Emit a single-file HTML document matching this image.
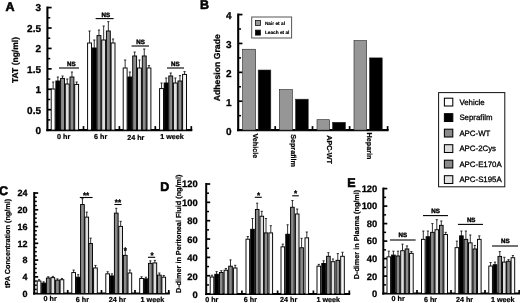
<!DOCTYPE html>
<html><head><meta charset="utf-8"><title>Figure</title>
<style>
html,body{margin:0;padding:0;background:#fff;}
body{width:520px;height:303px;overflow:hidden;}
svg{display:block;font-family:"Liberation Sans",sans-serif;text-rendering:geometricPrecision;}
</style></head><body>
<svg width="520" height="303" viewBox="0 0 520 303">
<defs><filter id="bl" x="0" y="0" width="520" height="303" filterUnits="userSpaceOnUse"><feGaussianBlur stdDeviation="0.3"/></filter></defs>
<g filter="url(#bl)">
<rect x="0" y="0" width="520" height="303" fill="#fff"/>
<line x1="47.40" y1="6.53" x2="47.40" y2="131.15" stroke="#000" stroke-width="2.1"/>
<line x1="46.35" y1="130.10" x2="192.35" y2="130.10" stroke="#000" stroke-width="2.1"/>
<line x1="47.40" y1="109.68" x2="51.65" y2="109.68" stroke="#000" stroke-width="1.7"/>
<line x1="47.40" y1="89.26" x2="51.65" y2="89.26" stroke="#000" stroke-width="1.7"/>
<line x1="47.40" y1="68.84" x2="51.65" y2="68.84" stroke="#000" stroke-width="1.7"/>
<line x1="47.40" y1="48.42" x2="51.65" y2="48.42" stroke="#000" stroke-width="1.7"/>
<line x1="47.40" y1="28.00" x2="51.65" y2="28.00" stroke="#000" stroke-width="1.7"/>
<line x1="47.40" y1="7.58" x2="51.65" y2="7.58" stroke="#000" stroke-width="1.7"/>
<line x1="47.40" y1="119.89" x2="50.25" y2="119.89" stroke="#000" stroke-width="1.5"/>
<line x1="47.40" y1="99.47" x2="50.25" y2="99.47" stroke="#000" stroke-width="1.5"/>
<line x1="47.40" y1="79.05" x2="50.25" y2="79.05" stroke="#000" stroke-width="1.5"/>
<line x1="47.40" y1="58.63" x2="50.25" y2="58.63" stroke="#000" stroke-width="1.5"/>
<line x1="47.40" y1="38.21" x2="50.25" y2="38.21" stroke="#000" stroke-width="1.5"/>
<line x1="47.40" y1="17.79" x2="50.25" y2="17.79" stroke="#000" stroke-width="1.5"/>
<line x1="83.50" y1="130.10" x2="83.50" y2="126.10" stroke="#000" stroke-width="1.7"/>
<line x1="119.40" y1="130.10" x2="119.40" y2="126.10" stroke="#000" stroke-width="1.7"/>
<line x1="155.30" y1="130.10" x2="155.30" y2="126.10" stroke="#000" stroke-width="1.7"/>
<line x1="191.30" y1="130.10" x2="191.30" y2="126.10" stroke="#000" stroke-width="1.7"/>
<text x="41.00" y="134.00" font-size="10" font-weight="bold" text-anchor="end" stroke="#000" stroke-width="0.30">0</text>
<text x="41.00" y="113.58" font-size="10" font-weight="bold" text-anchor="end" stroke="#000" stroke-width="0.30">0.5</text>
<text x="41.00" y="93.16" font-size="10" font-weight="bold" text-anchor="end" stroke="#000" stroke-width="0.30">1</text>
<text x="41.00" y="72.74" font-size="10" font-weight="bold" text-anchor="end" stroke="#000" stroke-width="0.30">1.5</text>
<text x="41.00" y="52.32" font-size="10" font-weight="bold" text-anchor="end" stroke="#000" stroke-width="0.30">2</text>
<text x="41.00" y="31.90" font-size="10" font-weight="bold" text-anchor="end" stroke="#000" stroke-width="0.30">2.5</text>
<text x="41.00" y="11.48" font-size="10" font-weight="bold" text-anchor="end" stroke="#000" stroke-width="0.30">3</text>
<text x="18.00" y="60.00" font-size="8.5" font-weight="bold" text-anchor="middle" transform="rotate(-90 18.00 60.00)" stroke="#000" stroke-width="0.26">TAT (ng/ml)</text>
<text x="10.00" y="10.60" font-size="12.5" font-weight="bold" text-anchor="middle" stroke="#000" stroke-width="0.6">A</text>
<line x1="53.15" y1="89.00" x2="53.15" y2="82.00" stroke="#111" stroke-width="0.85"/>
<line x1="52.05" y1="82.00" x2="54.25" y2="82.00" stroke="#111" stroke-width="0.85"/>
<rect x="51.20" y="89.00" width="3.90" height="41.10" fill="#ffffff" stroke="#000" stroke-width="0.95"/>
<line x1="57.85" y1="81.00" x2="57.85" y2="77.00" stroke="#111" stroke-width="0.85"/>
<line x1="56.75" y1="77.00" x2="58.95" y2="77.00" stroke="#111" stroke-width="0.85"/>
<rect x="55.90" y="81.00" width="3.90" height="49.10" fill="#000000" stroke="#000" stroke-width="0.95"/>
<line x1="62.55" y1="78.40" x2="62.55" y2="76.00" stroke="#111" stroke-width="0.85"/>
<line x1="61.45" y1="76.00" x2="63.65" y2="76.00" stroke="#111" stroke-width="0.85"/>
<rect x="60.60" y="78.40" width="3.90" height="51.70" fill="#8a8a8a" stroke="#000" stroke-width="0.95"/>
<line x1="67.25" y1="84.00" x2="67.25" y2="79.00" stroke="#111" stroke-width="0.85"/>
<line x1="66.15" y1="79.00" x2="68.35" y2="79.00" stroke="#111" stroke-width="0.85"/>
<rect x="65.30" y="84.00" width="3.90" height="46.10" fill="#dedede" stroke="#000" stroke-width="0.95"/>
<line x1="71.95" y1="77.00" x2="71.95" y2="72.00" stroke="#111" stroke-width="0.85"/>
<line x1="70.85" y1="72.00" x2="73.05" y2="72.00" stroke="#111" stroke-width="0.85"/>
<rect x="70.00" y="77.00" width="3.90" height="53.10" fill="#8a8a8a" stroke="#000" stroke-width="0.95"/>
<line x1="76.65" y1="84.40" x2="76.65" y2="82.00" stroke="#111" stroke-width="0.85"/>
<line x1="75.55" y1="82.00" x2="77.75" y2="82.00" stroke="#111" stroke-width="0.85"/>
<rect x="74.70" y="84.40" width="3.90" height="45.70" fill="#f4f4f4" stroke="#000" stroke-width="0.95"/>
<line x1="89.55" y1="43.00" x2="89.55" y2="31.00" stroke="#111" stroke-width="0.85"/>
<line x1="88.45" y1="31.00" x2="90.65" y2="31.00" stroke="#111" stroke-width="0.85"/>
<rect x="87.60" y="43.00" width="3.90" height="87.10" fill="#ffffff" stroke="#000" stroke-width="0.95"/>
<line x1="94.25" y1="48.00" x2="94.25" y2="40.00" stroke="#111" stroke-width="0.85"/>
<line x1="93.15" y1="40.00" x2="95.35" y2="40.00" stroke="#111" stroke-width="0.85"/>
<rect x="92.30" y="48.00" width="3.90" height="82.10" fill="#000000" stroke="#000" stroke-width="0.95"/>
<line x1="98.95" y1="35.60" x2="98.95" y2="30.00" stroke="#111" stroke-width="0.85"/>
<line x1="97.85" y1="30.00" x2="100.05" y2="30.00" stroke="#111" stroke-width="0.85"/>
<rect x="97.00" y="35.60" width="3.90" height="94.50" fill="#8a8a8a" stroke="#000" stroke-width="0.95"/>
<line x1="103.65" y1="40.00" x2="103.65" y2="26.00" stroke="#111" stroke-width="0.85"/>
<line x1="102.55" y1="26.00" x2="104.75" y2="26.00" stroke="#111" stroke-width="0.85"/>
<rect x="101.70" y="40.00" width="3.90" height="90.10" fill="#dedede" stroke="#000" stroke-width="0.95"/>
<line x1="108.35" y1="31.00" x2="108.35" y2="21.60" stroke="#111" stroke-width="0.85"/>
<line x1="107.25" y1="21.60" x2="109.45" y2="21.60" stroke="#111" stroke-width="0.85"/>
<rect x="106.40" y="31.00" width="3.90" height="99.10" fill="#8a8a8a" stroke="#000" stroke-width="0.95"/>
<line x1="113.05" y1="43.00" x2="113.05" y2="39.00" stroke="#111" stroke-width="0.85"/>
<line x1="111.95" y1="39.00" x2="114.15" y2="39.00" stroke="#111" stroke-width="0.85"/>
<rect x="111.10" y="43.00" width="3.90" height="87.10" fill="#f4f4f4" stroke="#000" stroke-width="0.95"/>
<line x1="125.15" y1="68.00" x2="125.15" y2="60.00" stroke="#111" stroke-width="0.85"/>
<line x1="124.05" y1="60.00" x2="126.25" y2="60.00" stroke="#111" stroke-width="0.85"/>
<rect x="123.20" y="68.00" width="3.90" height="62.10" fill="#ffffff" stroke="#000" stroke-width="0.95"/>
<line x1="129.85" y1="77.00" x2="129.85" y2="72.00" stroke="#111" stroke-width="0.85"/>
<line x1="128.75" y1="72.00" x2="130.95" y2="72.00" stroke="#111" stroke-width="0.85"/>
<rect x="127.90" y="77.00" width="3.90" height="53.10" fill="#000000" stroke="#000" stroke-width="0.95"/>
<line x1="134.65" y1="56.00" x2="134.65" y2="52.00" stroke="#111" stroke-width="0.85"/>
<line x1="133.55" y1="52.00" x2="135.75" y2="52.00" stroke="#111" stroke-width="0.85"/>
<rect x="132.70" y="56.00" width="3.90" height="74.10" fill="#8a8a8a" stroke="#000" stroke-width="0.95"/>
<line x1="139.45" y1="68.00" x2="139.45" y2="60.00" stroke="#111" stroke-width="0.85"/>
<line x1="138.35" y1="60.00" x2="140.55" y2="60.00" stroke="#111" stroke-width="0.85"/>
<rect x="137.50" y="68.00" width="3.90" height="62.10" fill="#dedede" stroke="#000" stroke-width="0.95"/>
<line x1="144.25" y1="56.00" x2="144.25" y2="49.00" stroke="#111" stroke-width="0.85"/>
<line x1="143.15" y1="49.00" x2="145.35" y2="49.00" stroke="#111" stroke-width="0.85"/>
<rect x="142.30" y="56.00" width="3.90" height="74.10" fill="#8a8a8a" stroke="#000" stroke-width="0.95"/>
<line x1="148.95" y1="68.00" x2="148.95" y2="65.60" stroke="#111" stroke-width="0.85"/>
<line x1="147.85" y1="65.60" x2="150.05" y2="65.60" stroke="#111" stroke-width="0.85"/>
<rect x="147.00" y="68.00" width="3.90" height="62.10" fill="#f4f4f4" stroke="#000" stroke-width="0.95"/>
<line x1="161.55" y1="88.60" x2="161.55" y2="83.00" stroke="#111" stroke-width="0.85"/>
<line x1="160.45" y1="83.00" x2="162.65" y2="83.00" stroke="#111" stroke-width="0.85"/>
<rect x="159.60" y="88.60" width="3.90" height="41.50" fill="#ffffff" stroke="#000" stroke-width="0.95"/>
<line x1="166.15" y1="83.00" x2="166.15" y2="78.00" stroke="#111" stroke-width="0.85"/>
<line x1="165.05" y1="78.00" x2="167.25" y2="78.00" stroke="#111" stroke-width="0.85"/>
<rect x="164.20" y="83.00" width="3.90" height="47.10" fill="#000000" stroke="#000" stroke-width="0.95"/>
<line x1="170.75" y1="76.00" x2="170.75" y2="73.00" stroke="#111" stroke-width="0.85"/>
<line x1="169.65" y1="73.00" x2="171.85" y2="73.00" stroke="#111" stroke-width="0.85"/>
<rect x="168.80" y="76.00" width="3.90" height="54.10" fill="#8a8a8a" stroke="#000" stroke-width="0.95"/>
<line x1="175.35" y1="83.00" x2="175.35" y2="78.00" stroke="#111" stroke-width="0.85"/>
<line x1="174.25" y1="78.00" x2="176.45" y2="78.00" stroke="#111" stroke-width="0.85"/>
<rect x="173.40" y="83.00" width="3.90" height="47.10" fill="#dedede" stroke="#000" stroke-width="0.95"/>
<line x1="179.95" y1="81.00" x2="179.95" y2="75.60" stroke="#111" stroke-width="0.85"/>
<line x1="178.85" y1="75.60" x2="181.05" y2="75.60" stroke="#111" stroke-width="0.85"/>
<rect x="178.00" y="81.00" width="3.90" height="49.10" fill="#8a8a8a" stroke="#000" stroke-width="0.95"/>
<line x1="184.55" y1="74.40" x2="184.55" y2="71.60" stroke="#111" stroke-width="0.85"/>
<line x1="183.45" y1="71.60" x2="185.65" y2="71.60" stroke="#111" stroke-width="0.85"/>
<rect x="182.60" y="74.40" width="3.90" height="55.70" fill="#f4f4f4" stroke="#000" stroke-width="0.95"/>
<line x1="59.00" y1="68.00" x2="79.00" y2="68.00" stroke="#000" stroke-width="1.1"/>
<text x="71.30" y="66.00" font-size="6.2" font-weight="bold" text-anchor="middle" stroke="#000" stroke-width="0.4">NS</text>
<line x1="95.60" y1="18.60" x2="113.60" y2="18.60" stroke="#000" stroke-width="1.1"/>
<text x="105.80" y="16.60" font-size="6.2" font-weight="bold" text-anchor="middle" stroke="#000" stroke-width="0.4">NS</text>
<line x1="131.60" y1="46.00" x2="149.00" y2="46.00" stroke="#000" stroke-width="1.1"/>
<text x="140.50" y="44.00" font-size="6.2" font-weight="bold" text-anchor="middle" stroke="#000" stroke-width="0.4">NS</text>
<line x1="167.00" y1="68.00" x2="184.00" y2="68.00" stroke="#000" stroke-width="1.1"/>
<text x="175.30" y="66.00" font-size="6.2" font-weight="bold" text-anchor="middle" stroke="#000" stroke-width="0.4">NS</text>
<text x="63.60" y="138.60" font-size="7.2" font-weight="bold" text-anchor="middle" stroke="#000" stroke-width="0.22">0 hr</text>
<text x="100.70" y="138.60" font-size="7.2" font-weight="bold" text-anchor="middle" stroke="#000" stroke-width="0.22">6 hr</text>
<text x="135.80" y="139.90" font-size="7.2" font-weight="bold" text-anchor="middle" stroke="#000" stroke-width="0.22">24 hr</text>
<text x="172.00" y="138.80" font-size="7.2" font-weight="bold" text-anchor="middle" stroke="#000" stroke-width="0.22">1 week</text>
<line x1="238.20" y1="13.53" x2="238.20" y2="131.15" stroke="#000" stroke-width="2.1"/>
<line x1="237.15" y1="130.10" x2="388.65" y2="130.10" stroke="#000" stroke-width="2.1"/>
<line x1="238.20" y1="101.22" x2="242.45" y2="101.22" stroke="#000" stroke-width="1.7"/>
<line x1="238.20" y1="72.34" x2="242.45" y2="72.34" stroke="#000" stroke-width="1.7"/>
<line x1="238.20" y1="43.46" x2="242.45" y2="43.46" stroke="#000" stroke-width="1.7"/>
<line x1="238.20" y1="14.58" x2="242.45" y2="14.58" stroke="#000" stroke-width="1.7"/>
<line x1="238.20" y1="115.66" x2="241.05" y2="115.66" stroke="#000" stroke-width="1.5"/>
<line x1="238.20" y1="86.78" x2="241.05" y2="86.78" stroke="#000" stroke-width="1.5"/>
<line x1="238.20" y1="57.90" x2="241.05" y2="57.90" stroke="#000" stroke-width="1.5"/>
<line x1="238.20" y1="29.02" x2="241.05" y2="29.02" stroke="#000" stroke-width="1.5"/>
<line x1="275.20" y1="130.10" x2="275.20" y2="126.10" stroke="#000" stroke-width="1.7"/>
<line x1="312.50" y1="130.10" x2="312.50" y2="126.10" stroke="#000" stroke-width="1.7"/>
<line x1="349.60" y1="130.10" x2="349.60" y2="126.10" stroke="#000" stroke-width="1.7"/>
<line x1="387.60" y1="130.10" x2="387.60" y2="126.10" stroke="#000" stroke-width="1.7"/>
<text x="231.60" y="134.60" font-size="10" font-weight="bold" text-anchor="end" stroke="#000" stroke-width="0.30">0</text>
<text x="231.60" y="105.52" font-size="10" font-weight="bold" text-anchor="end" stroke="#000" stroke-width="0.30">1</text>
<text x="231.60" y="76.64" font-size="10" font-weight="bold" text-anchor="end" stroke="#000" stroke-width="0.30">2</text>
<text x="231.60" y="47.76" font-size="10" font-weight="bold" text-anchor="end" stroke="#000" stroke-width="0.30">3</text>
<text x="231.60" y="18.88" font-size="10" font-weight="bold" text-anchor="end" stroke="#000" stroke-width="0.30">4</text>
<text x="219.80" y="67.70" font-size="8.7" font-weight="bold" text-anchor="middle" transform="rotate(-90 219.80 67.70)" stroke="#000" stroke-width="0.26">Adhesion Grade</text>
<text x="204.60" y="9.20" font-size="12.5" font-weight="bold" text-anchor="middle" stroke="#000" stroke-width="0.6">B</text>
<rect x="242.60" y="49.24" width="13.00" height="80.86" fill="#969696" stroke="#222" stroke-width="0.6"/>
<rect x="258.20" y="70.03" width="12.60" height="60.07" fill="#000" stroke="#222" stroke-width="0.6"/>
<rect x="279.40" y="89.67" width="13.00" height="40.43" fill="#969696" stroke="#222" stroke-width="0.6"/>
<rect x="295.60" y="99.20" width="12.60" height="30.90" fill="#000" stroke="#222" stroke-width="0.6"/>
<rect x="317.00" y="119.70" width="12.60" height="10.40" fill="#969696" stroke="#222" stroke-width="0.6"/>
<rect x="332.60" y="122.30" width="12.80" height="7.80" fill="#000" stroke="#222" stroke-width="0.6"/>
<rect x="354.00" y="40.57" width="12.60" height="89.53" fill="#969696" stroke="#222" stroke-width="0.6"/>
<rect x="369.60" y="57.90" width="12.60" height="72.20" fill="#000" stroke="#222" stroke-width="0.6"/>
<text x="252.80" y="133.40" font-size="7.2" font-weight="bold" text-anchor="start" transform="rotate(90 252.80 133.40)" stroke="#000" stroke-width="0.22">Vehicle</text>
<text x="291.40" y="134.20" font-size="7.2" font-weight="bold" text-anchor="start" transform="rotate(90 291.40 134.20)" stroke="#000" stroke-width="0.22">Seprafilm</text>
<text x="327.40" y="135.20" font-size="7.2" font-weight="bold" text-anchor="start" transform="rotate(90 327.40 135.20)" stroke="#000" stroke-width="0.22">APC-WT</text>
<text x="366.80" y="132.60" font-size="7.2" font-weight="bold" text-anchor="start" transform="rotate(90 366.80 132.60)" stroke="#000" stroke-width="0.22">Heparin</text>
<rect x="251.70" y="17.00" width="39.90" height="21.00" fill="#fff" stroke="#555" stroke-width="1.0"/>
<rect x="255.40" y="20.50" width="5.00" height="5.00" fill="#969696" stroke="#111" stroke-width="0.8"/>
<rect x="255.40" y="30.10" width="5.00" height="5.00" fill="#000" stroke="#111" stroke-width="0.8"/>
<text x="264.90" y="24.60" font-size="4.75" font-weight="bold" text-anchor="start" stroke="#000" stroke-width="0.15">Nair et al</text>
<text x="264.90" y="34.40" font-size="4.75" font-weight="bold" text-anchor="start" stroke="#000" stroke-width="0.15">Leach et al</text>
<rect x="438.60" y="92.60" width="66.20" height="94.20" fill="#fff" stroke="#111" stroke-width="1.0"/>
<rect x="444.40" y="98.20" width="8.40" height="7.80" fill="#ffffff" stroke="#000" stroke-width="1.05"/>
<text x="459.40" y="104.90" font-size="7.85" font-weight="normal" text-anchor="start" stroke="#000" stroke-width="0.28">Vehicle</text>
<rect x="444.40" y="113.70" width="8.40" height="7.80" fill="#000000" stroke="#000" stroke-width="1.05"/>
<text x="459.40" y="120.40" font-size="7.85" font-weight="normal" text-anchor="start" stroke="#000" stroke-width="0.28">Seprafilm</text>
<rect x="444.40" y="129.20" width="8.40" height="7.80" fill="#8a8a8a" stroke="#000" stroke-width="1.05"/>
<text x="459.40" y="135.90" font-size="7.85" font-weight="normal" text-anchor="start" stroke="#000" stroke-width="0.28">APC-WT</text>
<rect x="444.40" y="144.70" width="8.40" height="7.80" fill="#dcdcdc" stroke="#000" stroke-width="1.05"/>
<text x="459.40" y="151.40" font-size="7.85" font-weight="normal" text-anchor="start" stroke="#000" stroke-width="0.28">APC-2Cys</text>
<rect x="444.40" y="160.20" width="8.40" height="7.80" fill="#8a8a8a" stroke="#000" stroke-width="1.05"/>
<text x="459.40" y="166.90" font-size="7.85" font-weight="normal" text-anchor="start" stroke="#000" stroke-width="0.28">APC-E170A</text>
<rect x="444.40" y="175.70" width="8.40" height="7.80" fill="#e2e2e2" stroke="#000" stroke-width="1.05"/>
<text x="459.40" y="182.40" font-size="7.85" font-weight="normal" text-anchor="start" stroke="#000" stroke-width="0.28">APC-S195A</text>
<line x1="34.20" y1="192.04" x2="34.20" y2="294.60" stroke="#000" stroke-width="2.0"/>
<line x1="33.20" y1="293.60" x2="169.80" y2="293.60" stroke="#000" stroke-width="2.0"/>
<line x1="34.20" y1="276.84" x2="38.20" y2="276.84" stroke="#000" stroke-width="1.7"/>
<line x1="34.20" y1="260.08" x2="38.20" y2="260.08" stroke="#000" stroke-width="1.7"/>
<line x1="34.20" y1="243.32" x2="38.20" y2="243.32" stroke="#000" stroke-width="1.7"/>
<line x1="34.20" y1="226.56" x2="38.20" y2="226.56" stroke="#000" stroke-width="1.7"/>
<line x1="34.20" y1="209.80" x2="38.20" y2="209.80" stroke="#000" stroke-width="1.7"/>
<line x1="34.20" y1="193.04" x2="38.20" y2="193.04" stroke="#000" stroke-width="1.7"/>
<line x1="34.20" y1="289.41" x2="36.80" y2="289.41" stroke="#000" stroke-width="1.5"/>
<line x1="34.20" y1="285.22" x2="36.80" y2="285.22" stroke="#000" stroke-width="1.5"/>
<line x1="34.20" y1="281.03" x2="36.80" y2="281.03" stroke="#000" stroke-width="1.5"/>
<line x1="34.20" y1="272.65" x2="36.80" y2="272.65" stroke="#000" stroke-width="1.5"/>
<line x1="34.20" y1="268.46" x2="36.80" y2="268.46" stroke="#000" stroke-width="1.5"/>
<line x1="34.20" y1="264.27" x2="36.80" y2="264.27" stroke="#000" stroke-width="1.5"/>
<line x1="34.20" y1="255.89" x2="36.80" y2="255.89" stroke="#000" stroke-width="1.5"/>
<line x1="34.20" y1="251.70" x2="36.80" y2="251.70" stroke="#000" stroke-width="1.5"/>
<line x1="34.20" y1="247.51" x2="36.80" y2="247.51" stroke="#000" stroke-width="1.5"/>
<line x1="34.20" y1="239.13" x2="36.80" y2="239.13" stroke="#000" stroke-width="1.5"/>
<line x1="34.20" y1="234.94" x2="36.80" y2="234.94" stroke="#000" stroke-width="1.5"/>
<line x1="34.20" y1="230.75" x2="36.80" y2="230.75" stroke="#000" stroke-width="1.5"/>
<line x1="34.20" y1="222.37" x2="36.80" y2="222.37" stroke="#000" stroke-width="1.5"/>
<line x1="34.20" y1="218.18" x2="36.80" y2="218.18" stroke="#000" stroke-width="1.5"/>
<line x1="34.20" y1="213.99" x2="36.80" y2="213.99" stroke="#000" stroke-width="1.5"/>
<line x1="34.20" y1="205.61" x2="36.80" y2="205.61" stroke="#000" stroke-width="1.5"/>
<line x1="34.20" y1="201.42" x2="36.80" y2="201.42" stroke="#000" stroke-width="1.5"/>
<line x1="34.20" y1="197.23" x2="36.80" y2="197.23" stroke="#000" stroke-width="1.5"/>
<line x1="67.70" y1="293.60" x2="67.70" y2="290.00" stroke="#000" stroke-width="1.7"/>
<line x1="101.50" y1="293.60" x2="101.50" y2="290.00" stroke="#000" stroke-width="1.7"/>
<line x1="135.00" y1="293.60" x2="135.00" y2="290.00" stroke="#000" stroke-width="1.7"/>
<line x1="168.80" y1="293.60" x2="168.80" y2="290.00" stroke="#000" stroke-width="1.7"/>
<text x="27.40" y="296.90" font-size="9" font-weight="bold" text-anchor="end" stroke="#000" stroke-width="0.27">0</text>
<text x="27.40" y="280.14" font-size="9" font-weight="bold" text-anchor="end" stroke="#000" stroke-width="0.27">4</text>
<text x="27.40" y="263.38" font-size="9" font-weight="bold" text-anchor="end" stroke="#000" stroke-width="0.27">8</text>
<text x="27.40" y="246.62" font-size="9" font-weight="bold" text-anchor="end" stroke="#000" stroke-width="0.27">12</text>
<text x="27.40" y="229.86" font-size="9" font-weight="bold" text-anchor="end" stroke="#000" stroke-width="0.27">16</text>
<text x="27.40" y="213.10" font-size="9" font-weight="bold" text-anchor="end" stroke="#000" stroke-width="0.27">20</text>
<text x="27.40" y="196.34" font-size="9" font-weight="bold" text-anchor="end" stroke="#000" stroke-width="0.27">24</text>
<text x="9.80" y="243.40" font-size="7.27" font-weight="bold" text-anchor="middle" transform="rotate(-90 9.80 243.40)" stroke="#000" stroke-width="0.22">tPA Concentration (ng/ml)</text>
<text x="3.60" y="194.90" font-size="12.5" font-weight="bold" text-anchor="middle" stroke="#000" stroke-width="0.6">C</text>
<line x1="39.05" y1="280.98" x2="39.05" y2="279.72" stroke="#111" stroke-width="0.85"/>
<line x1="37.95" y1="279.72" x2="40.15" y2="279.72" stroke="#111" stroke-width="0.85"/>
<rect x="37.20" y="280.98" width="3.70" height="12.62" fill="#ffffff" stroke="#000" stroke-width="0.95"/>
<line x1="43.65" y1="283.08" x2="43.65" y2="281.82" stroke="#111" stroke-width="0.85"/>
<line x1="42.55" y1="281.82" x2="44.75" y2="281.82" stroke="#111" stroke-width="0.85"/>
<rect x="41.80" y="283.08" width="3.70" height="10.52" fill="#000000" stroke="#000" stroke-width="0.95"/>
<line x1="48.25" y1="278.04" x2="48.25" y2="276.78" stroke="#111" stroke-width="0.85"/>
<line x1="47.15" y1="276.78" x2="49.35" y2="276.78" stroke="#111" stroke-width="0.85"/>
<rect x="46.40" y="278.04" width="3.70" height="15.56" fill="#8a8a8a" stroke="#000" stroke-width="0.95"/>
<line x1="52.85" y1="277.62" x2="52.85" y2="276.36" stroke="#111" stroke-width="0.85"/>
<line x1="51.75" y1="276.36" x2="53.95" y2="276.36" stroke="#111" stroke-width="0.85"/>
<rect x="51.00" y="277.62" width="3.70" height="15.98" fill="#dedede" stroke="#000" stroke-width="0.95"/>
<line x1="57.45" y1="280.14" x2="57.45" y2="278.88" stroke="#111" stroke-width="0.85"/>
<line x1="56.35" y1="278.88" x2="58.55" y2="278.88" stroke="#111" stroke-width="0.85"/>
<rect x="55.60" y="280.14" width="3.70" height="13.46" fill="#8a8a8a" stroke="#000" stroke-width="0.95"/>
<line x1="61.95" y1="279.72" x2="61.95" y2="278.46" stroke="#111" stroke-width="0.85"/>
<line x1="60.85" y1="278.46" x2="63.05" y2="278.46" stroke="#111" stroke-width="0.85"/>
<rect x="60.10" y="279.72" width="3.70" height="13.88" fill="#f4f4f4" stroke="#000" stroke-width="0.95"/>
<line x1="73.65" y1="272.58" x2="73.65" y2="270.06" stroke="#111" stroke-width="0.85"/>
<line x1="72.55" y1="270.06" x2="74.75" y2="270.06" stroke="#111" stroke-width="0.85"/>
<rect x="71.80" y="272.58" width="3.70" height="21.02" fill="#ffffff" stroke="#000" stroke-width="0.95"/>
<line x1="78.15" y1="277.20" x2="78.15" y2="274.68" stroke="#111" stroke-width="0.85"/>
<line x1="77.05" y1="274.68" x2="79.25" y2="274.68" stroke="#111" stroke-width="0.85"/>
<rect x="76.30" y="277.20" width="3.70" height="16.40" fill="#000000" stroke="#000" stroke-width="0.95"/>
<line x1="82.45" y1="204.54" x2="82.45" y2="198.66" stroke="#111" stroke-width="0.85"/>
<line x1="81.35" y1="198.66" x2="83.55" y2="198.66" stroke="#111" stroke-width="0.85"/>
<rect x="80.60" y="204.54" width="3.70" height="89.06" fill="#8a8a8a" stroke="#000" stroke-width="0.95"/>
<line x1="86.75" y1="217.14" x2="86.75" y2="212.10" stroke="#111" stroke-width="0.85"/>
<line x1="85.65" y1="212.10" x2="87.85" y2="212.10" stroke="#111" stroke-width="0.85"/>
<rect x="84.90" y="217.14" width="3.70" height="76.46" fill="#dedede" stroke="#000" stroke-width="0.95"/>
<line x1="90.65" y1="243.60" x2="90.65" y2="238.14" stroke="#111" stroke-width="0.85"/>
<line x1="89.55" y1="238.14" x2="91.75" y2="238.14" stroke="#111" stroke-width="0.85"/>
<rect x="88.80" y="243.60" width="3.70" height="50.00" fill="#8a8a8a" stroke="#000" stroke-width="0.95"/>
<line x1="95.45" y1="267.96" x2="95.45" y2="265.44" stroke="#111" stroke-width="0.85"/>
<line x1="94.35" y1="265.44" x2="96.55" y2="265.44" stroke="#111" stroke-width="0.85"/>
<rect x="93.60" y="267.96" width="3.70" height="25.64" fill="#f4f4f4" stroke="#000" stroke-width="0.95"/>
<line x1="107.65" y1="273.84" x2="107.65" y2="271.74" stroke="#111" stroke-width="0.85"/>
<line x1="106.55" y1="271.74" x2="108.75" y2="271.74" stroke="#111" stroke-width="0.85"/>
<rect x="105.80" y="273.84" width="3.70" height="19.76" fill="#ffffff" stroke="#000" stroke-width="0.95"/>
<line x1="111.95" y1="275.94" x2="111.95" y2="273.84" stroke="#111" stroke-width="0.85"/>
<line x1="110.85" y1="273.84" x2="113.05" y2="273.84" stroke="#111" stroke-width="0.85"/>
<rect x="110.10" y="275.94" width="3.70" height="17.66" fill="#000000" stroke="#000" stroke-width="0.95"/>
<line x1="116.25" y1="213.15" x2="116.25" y2="208.32" stroke="#111" stroke-width="0.85"/>
<line x1="115.15" y1="208.32" x2="117.35" y2="208.32" stroke="#111" stroke-width="0.85"/>
<rect x="114.40" y="213.15" width="3.70" height="80.45" fill="#8a8a8a" stroke="#000" stroke-width="0.95"/>
<line x1="120.65" y1="226.38" x2="120.65" y2="221.34" stroke="#111" stroke-width="0.85"/>
<line x1="119.55" y1="221.34" x2="121.75" y2="221.34" stroke="#111" stroke-width="0.85"/>
<rect x="118.80" y="226.38" width="3.70" height="67.22" fill="#dedede" stroke="#000" stroke-width="0.95"/>
<line x1="125.25" y1="255.36" x2="125.25" y2="250.32" stroke="#111" stroke-width="0.85"/>
<line x1="124.15" y1="250.32" x2="126.35" y2="250.32" stroke="#111" stroke-width="0.85"/>
<rect x="123.40" y="255.36" width="3.70" height="38.24" fill="#8a8a8a" stroke="#000" stroke-width="0.95"/>
<line x1="129.85" y1="273.00" x2="129.85" y2="270.06" stroke="#111" stroke-width="0.85"/>
<line x1="128.75" y1="270.06" x2="130.95" y2="270.06" stroke="#111" stroke-width="0.85"/>
<rect x="128.00" y="273.00" width="3.70" height="20.60" fill="#f4f4f4" stroke="#000" stroke-width="0.95"/>
<line x1="141.55" y1="278.46" x2="141.55" y2="276.78" stroke="#111" stroke-width="0.85"/>
<line x1="140.45" y1="276.78" x2="142.65" y2="276.78" stroke="#111" stroke-width="0.85"/>
<rect x="139.70" y="278.46" width="3.70" height="15.14" fill="#ffffff" stroke="#000" stroke-width="0.95"/>
<line x1="145.95" y1="278.88" x2="145.95" y2="277.20" stroke="#111" stroke-width="0.85"/>
<line x1="144.85" y1="277.20" x2="147.05" y2="277.20" stroke="#111" stroke-width="0.85"/>
<rect x="144.10" y="278.88" width="3.70" height="14.72" fill="#000000" stroke="#000" stroke-width="0.95"/>
<line x1="150.35" y1="263.34" x2="150.35" y2="260.82" stroke="#111" stroke-width="0.85"/>
<line x1="149.25" y1="260.82" x2="151.45" y2="260.82" stroke="#111" stroke-width="0.85"/>
<rect x="148.50" y="263.34" width="3.70" height="30.26" fill="#8a8a8a" stroke="#000" stroke-width="0.95"/>
<line x1="154.85" y1="262.92" x2="154.85" y2="260.40" stroke="#111" stroke-width="0.85"/>
<line x1="153.75" y1="260.40" x2="155.95" y2="260.40" stroke="#111" stroke-width="0.85"/>
<rect x="153.00" y="262.92" width="3.70" height="30.68" fill="#dedede" stroke="#000" stroke-width="0.95"/>
<line x1="159.35" y1="275.10" x2="159.35" y2="273.00" stroke="#111" stroke-width="0.85"/>
<line x1="158.25" y1="273.00" x2="160.45" y2="273.00" stroke="#111" stroke-width="0.85"/>
<rect x="157.50" y="275.10" width="3.70" height="18.50" fill="#8a8a8a" stroke="#000" stroke-width="0.95"/>
<line x1="163.75" y1="277.20" x2="163.75" y2="275.52" stroke="#111" stroke-width="0.85"/>
<line x1="162.65" y1="275.52" x2="164.85" y2="275.52" stroke="#111" stroke-width="0.85"/>
<rect x="161.90" y="277.20" width="3.70" height="16.40" fill="#f4f4f4" stroke="#000" stroke-width="0.95"/>
<line x1="79.80" y1="197.50" x2="92.60" y2="197.50" stroke="#000" stroke-width="1.1"/>
<text x="86.10" y="198.30" font-size="8" font-weight="bold" text-anchor="middle" stroke="#000" stroke-width="0.35">**</text>
<line x1="114.40" y1="204.50" x2="121.60" y2="204.50" stroke="#000" stroke-width="1.1"/>
<text x="117.90" y="205.20" font-size="8" font-weight="bold" text-anchor="middle" stroke="#000" stroke-width="0.35">**</text>
<line x1="148.00" y1="257.30" x2="155.20" y2="257.30" stroke="#000" stroke-width="1.1"/>
<text x="152.00" y="258.20" font-size="8" font-weight="bold" text-anchor="middle" stroke="#000" stroke-width="0.35">*</text>
<text x="125.40" y="253.00" font-size="8" font-weight="bold" text-anchor="middle" stroke="#000" stroke-width="0.35">*</text>
<text x="50.20" y="301.00" font-size="7.2" font-weight="bold" text-anchor="middle" stroke="#000" stroke-width="0.22">0 hr</text>
<text x="82.40" y="301.80" font-size="7.2" font-weight="bold" text-anchor="middle" stroke="#000" stroke-width="0.22">6 hr</text>
<text x="117.40" y="302.00" font-size="7.2" font-weight="bold" text-anchor="middle" stroke="#000" stroke-width="0.22">24 hr</text>
<text x="152.40" y="301.60" font-size="7.2" font-weight="bold" text-anchor="middle" stroke="#000" stroke-width="0.22">1 week</text>
<line x1="206.20" y1="183.00" x2="206.20" y2="295.10" stroke="#000" stroke-width="2.0"/>
<line x1="205.20" y1="294.10" x2="350.20" y2="294.10" stroke="#000" stroke-width="2.0"/>
<line x1="206.20" y1="275.75" x2="210.20" y2="275.75" stroke="#000" stroke-width="1.7"/>
<line x1="206.20" y1="257.40" x2="210.20" y2="257.40" stroke="#000" stroke-width="1.7"/>
<line x1="206.20" y1="239.05" x2="210.20" y2="239.05" stroke="#000" stroke-width="1.7"/>
<line x1="206.20" y1="220.70" x2="210.20" y2="220.70" stroke="#000" stroke-width="1.7"/>
<line x1="206.20" y1="202.35" x2="210.20" y2="202.35" stroke="#000" stroke-width="1.7"/>
<line x1="206.20" y1="184.00" x2="210.20" y2="184.00" stroke="#000" stroke-width="1.7"/>
<line x1="206.20" y1="284.93" x2="209.00" y2="284.93" stroke="#000" stroke-width="1.5"/>
<line x1="206.20" y1="266.58" x2="209.00" y2="266.58" stroke="#000" stroke-width="1.5"/>
<line x1="206.20" y1="248.23" x2="209.00" y2="248.23" stroke="#000" stroke-width="1.5"/>
<line x1="206.20" y1="229.88" x2="209.00" y2="229.88" stroke="#000" stroke-width="1.5"/>
<line x1="206.20" y1="211.53" x2="209.00" y2="211.53" stroke="#000" stroke-width="1.5"/>
<line x1="206.20" y1="193.18" x2="209.00" y2="193.18" stroke="#000" stroke-width="1.5"/>
<line x1="241.90" y1="294.10" x2="241.90" y2="290.50" stroke="#000" stroke-width="1.7"/>
<line x1="277.60" y1="294.10" x2="277.60" y2="290.50" stroke="#000" stroke-width="1.7"/>
<line x1="313.40" y1="294.10" x2="313.40" y2="290.50" stroke="#000" stroke-width="1.7"/>
<line x1="349.30" y1="294.10" x2="349.30" y2="290.50" stroke="#000" stroke-width="1.7"/>
<text x="197.70" y="298.20" font-size="9.4" font-weight="bold" text-anchor="end" stroke="#000" stroke-width="0.28">0</text>
<text x="197.70" y="279.67" font-size="9.4" font-weight="bold" text-anchor="end" stroke="#000" stroke-width="0.28">20</text>
<text x="197.70" y="261.13" font-size="9.4" font-weight="bold" text-anchor="end" stroke="#000" stroke-width="0.28">40</text>
<text x="197.70" y="242.60" font-size="9.4" font-weight="bold" text-anchor="end" stroke="#000" stroke-width="0.28">60</text>
<text x="197.70" y="224.07" font-size="9.4" font-weight="bold" text-anchor="end" stroke="#000" stroke-width="0.28">80</text>
<text x="197.70" y="205.53" font-size="9.4" font-weight="bold" text-anchor="end" stroke="#000" stroke-width="0.28">100</text>
<text x="197.70" y="187.00" font-size="9.4" font-weight="bold" text-anchor="end" stroke="#000" stroke-width="0.28">120</text>
<text x="180.60" y="233.80" font-size="7.25" font-weight="bold" text-anchor="middle" transform="rotate(-90 180.60 233.80)" stroke="#000" stroke-width="0.22">D-dimer in Peritoneal Fluid (ng/ml)</text>
<text x="164.80" y="191.20" font-size="12.5" font-weight="bold" text-anchor="middle" stroke="#000" stroke-width="0.6">D</text>
<line x1="212.00" y1="277.00" x2="212.00" y2="275.20" stroke="#111" stroke-width="0.85"/>
<line x1="210.90" y1="275.20" x2="213.10" y2="275.20" stroke="#111" stroke-width="0.85"/>
<rect x="210.20" y="277.00" width="3.60" height="17.10" fill="#ffffff" stroke="#000" stroke-width="0.95"/>
<line x1="216.60" y1="274.30" x2="216.60" y2="271.60" stroke="#111" stroke-width="0.85"/>
<line x1="215.50" y1="271.60" x2="217.70" y2="271.60" stroke="#111" stroke-width="0.85"/>
<rect x="214.80" y="274.30" width="3.60" height="19.80" fill="#000000" stroke="#000" stroke-width="0.95"/>
<line x1="221.30" y1="272.50" x2="221.30" y2="270.70" stroke="#111" stroke-width="0.85"/>
<line x1="220.20" y1="270.70" x2="222.40" y2="270.70" stroke="#111" stroke-width="0.85"/>
<rect x="219.50" y="272.50" width="3.60" height="21.60" fill="#8a8a8a" stroke="#000" stroke-width="0.95"/>
<line x1="225.90" y1="270.25" x2="225.90" y2="268.45" stroke="#111" stroke-width="0.85"/>
<line x1="224.80" y1="268.45" x2="227.00" y2="268.45" stroke="#111" stroke-width="0.85"/>
<rect x="224.10" y="270.25" width="3.60" height="23.85" fill="#dedede" stroke="#000" stroke-width="0.95"/>
<line x1="230.50" y1="266.20" x2="230.50" y2="259.90" stroke="#111" stroke-width="0.85"/>
<line x1="229.40" y1="259.90" x2="231.60" y2="259.90" stroke="#111" stroke-width="0.85"/>
<rect x="228.70" y="266.20" width="3.60" height="27.90" fill="#8a8a8a" stroke="#000" stroke-width="0.95"/>
<line x1="235.20" y1="268.00" x2="235.20" y2="265.30" stroke="#111" stroke-width="0.85"/>
<line x1="234.10" y1="265.30" x2="236.30" y2="265.30" stroke="#111" stroke-width="0.85"/>
<rect x="233.40" y="268.00" width="3.60" height="26.10" fill="#f4f4f4" stroke="#000" stroke-width="0.95"/>
<line x1="247.80" y1="239.20" x2="247.80" y2="236.50" stroke="#111" stroke-width="0.85"/>
<line x1="246.70" y1="236.50" x2="248.90" y2="236.50" stroke="#111" stroke-width="0.85"/>
<rect x="246.00" y="239.20" width="3.60" height="54.90" fill="#ffffff" stroke="#000" stroke-width="0.95"/>
<line x1="252.50" y1="229.30" x2="252.50" y2="218.50" stroke="#111" stroke-width="0.85"/>
<line x1="251.40" y1="218.50" x2="253.60" y2="218.50" stroke="#111" stroke-width="0.85"/>
<rect x="250.70" y="229.30" width="3.60" height="64.80" fill="#000000" stroke="#000" stroke-width="0.95"/>
<line x1="257.20" y1="209.50" x2="257.20" y2="203.20" stroke="#111" stroke-width="0.85"/>
<line x1="256.10" y1="203.20" x2="258.30" y2="203.20" stroke="#111" stroke-width="0.85"/>
<rect x="255.40" y="209.50" width="3.60" height="84.60" fill="#8a8a8a" stroke="#000" stroke-width="0.95"/>
<line x1="261.80" y1="216.25" x2="261.80" y2="211.30" stroke="#111" stroke-width="0.85"/>
<line x1="260.70" y1="211.30" x2="262.90" y2="211.30" stroke="#111" stroke-width="0.85"/>
<rect x="260.00" y="216.25" width="3.60" height="77.85" fill="#dedede" stroke="#000" stroke-width="0.95"/>
<line x1="266.00" y1="232.90" x2="266.00" y2="218.50" stroke="#111" stroke-width="0.85"/>
<line x1="264.90" y1="218.50" x2="267.10" y2="218.50" stroke="#111" stroke-width="0.85"/>
<rect x="264.20" y="232.90" width="3.60" height="61.20" fill="#8a8a8a" stroke="#000" stroke-width="0.95"/>
<line x1="270.80" y1="232.90" x2="270.80" y2="225.70" stroke="#111" stroke-width="0.85"/>
<line x1="269.70" y1="225.70" x2="271.90" y2="225.70" stroke="#111" stroke-width="0.85"/>
<rect x="269.00" y="232.90" width="3.60" height="61.20" fill="#f4f4f4" stroke="#000" stroke-width="0.95"/>
<line x1="282.80" y1="246.85" x2="282.80" y2="244.15" stroke="#111" stroke-width="0.85"/>
<line x1="281.70" y1="244.15" x2="283.90" y2="244.15" stroke="#111" stroke-width="0.85"/>
<rect x="281.00" y="246.85" width="3.60" height="47.25" fill="#ffffff" stroke="#000" stroke-width="0.95"/>
<line x1="287.60" y1="234.25" x2="287.60" y2="224.80" stroke="#111" stroke-width="0.85"/>
<line x1="286.50" y1="224.80" x2="288.70" y2="224.80" stroke="#111" stroke-width="0.85"/>
<rect x="285.80" y="234.25" width="3.60" height="59.85" fill="#000000" stroke="#000" stroke-width="0.95"/>
<line x1="292.40" y1="207.25" x2="292.40" y2="200.50" stroke="#111" stroke-width="0.85"/>
<line x1="291.30" y1="200.50" x2="293.50" y2="200.50" stroke="#111" stroke-width="0.85"/>
<rect x="290.60" y="207.25" width="3.60" height="86.85" fill="#8a8a8a" stroke="#000" stroke-width="0.95"/>
<line x1="297.20" y1="214.00" x2="297.20" y2="209.05" stroke="#111" stroke-width="0.85"/>
<line x1="296.10" y1="209.05" x2="298.30" y2="209.05" stroke="#111" stroke-width="0.85"/>
<rect x="295.40" y="214.00" width="3.60" height="80.10" fill="#dedede" stroke="#000" stroke-width="0.95"/>
<line x1="301.60" y1="247.75" x2="301.60" y2="238.30" stroke="#111" stroke-width="0.85"/>
<line x1="300.50" y1="238.30" x2="302.70" y2="238.30" stroke="#111" stroke-width="0.85"/>
<rect x="299.80" y="247.75" width="3.60" height="46.35" fill="#8a8a8a" stroke="#000" stroke-width="0.95"/>
<line x1="306.80" y1="237.85" x2="306.80" y2="232.00" stroke="#111" stroke-width="0.85"/>
<line x1="305.70" y1="232.00" x2="307.90" y2="232.00" stroke="#111" stroke-width="0.85"/>
<rect x="305.00" y="237.85" width="3.60" height="56.25" fill="#f4f4f4" stroke="#000" stroke-width="0.95"/>
<line x1="318.80" y1="266.20" x2="318.80" y2="264.40" stroke="#111" stroke-width="0.85"/>
<line x1="317.70" y1="264.40" x2="319.90" y2="264.40" stroke="#111" stroke-width="0.85"/>
<rect x="317.00" y="266.20" width="3.60" height="27.90" fill="#ffffff" stroke="#000" stroke-width="0.95"/>
<line x1="323.60" y1="263.50" x2="323.60" y2="260.80" stroke="#111" stroke-width="0.85"/>
<line x1="322.50" y1="260.80" x2="324.70" y2="260.80" stroke="#111" stroke-width="0.85"/>
<rect x="321.80" y="263.50" width="3.60" height="30.60" fill="#000000" stroke="#000" stroke-width="0.95"/>
<line x1="328.40" y1="256.30" x2="328.40" y2="252.70" stroke="#111" stroke-width="0.85"/>
<line x1="327.30" y1="252.70" x2="329.50" y2="252.70" stroke="#111" stroke-width="0.85"/>
<rect x="326.60" y="256.30" width="3.60" height="37.80" fill="#8a8a8a" stroke="#000" stroke-width="0.95"/>
<line x1="333.00" y1="261.70" x2="333.00" y2="259.00" stroke="#111" stroke-width="0.85"/>
<line x1="331.90" y1="259.00" x2="334.10" y2="259.00" stroke="#111" stroke-width="0.85"/>
<rect x="331.20" y="261.70" width="3.60" height="32.40" fill="#dedede" stroke="#000" stroke-width="0.95"/>
<line x1="337.80" y1="260.35" x2="337.80" y2="253.60" stroke="#111" stroke-width="0.85"/>
<line x1="336.70" y1="253.60" x2="338.90" y2="253.60" stroke="#111" stroke-width="0.85"/>
<rect x="336.00" y="260.35" width="3.60" height="33.75" fill="#8a8a8a" stroke="#000" stroke-width="0.95"/>
<line x1="342.50" y1="256.30" x2="342.50" y2="252.25" stroke="#111" stroke-width="0.85"/>
<line x1="341.40" y1="252.25" x2="343.60" y2="252.25" stroke="#111" stroke-width="0.85"/>
<rect x="340.70" y="256.30" width="3.60" height="37.80" fill="#f4f4f4" stroke="#000" stroke-width="0.95"/>
<line x1="254.80" y1="197.30" x2="261.80" y2="197.30" stroke="#000" stroke-width="1.1"/>
<text x="258.50" y="197.50" font-size="8" font-weight="bold" text-anchor="middle" stroke="#000" stroke-width="0.35">*</text>
<line x1="292.20" y1="195.80" x2="298.80" y2="195.80" stroke="#000" stroke-width="1.1"/>
<text x="295.60" y="196.00" font-size="8" font-weight="bold" text-anchor="middle" stroke="#000" stroke-width="0.35">*</text>
<text x="211.80" y="301.60" font-size="7.2" font-weight="bold" text-anchor="middle" stroke="#000" stroke-width="0.22">0 hr</text>
<text x="250.40" y="301.60" font-size="7.2" font-weight="bold" text-anchor="middle" stroke="#000" stroke-width="0.22">6 hr</text>
<text x="288.60" y="301.80" font-size="7.2" font-weight="bold" text-anchor="middle" stroke="#000" stroke-width="0.22">24 hr</text>
<text x="328.20" y="301.60" font-size="7.2" font-weight="bold" text-anchor="middle" stroke="#000" stroke-width="0.22">1 week</text>
<line x1="383.30" y1="187.60" x2="383.30" y2="294.60" stroke="#000" stroke-width="2.0"/>
<line x1="382.30" y1="293.60" x2="520.20" y2="293.60" stroke="#000" stroke-width="2.0"/>
<line x1="383.30" y1="276.10" x2="387.30" y2="276.10" stroke="#000" stroke-width="1.7"/>
<line x1="383.30" y1="258.60" x2="387.30" y2="258.60" stroke="#000" stroke-width="1.7"/>
<line x1="383.30" y1="241.10" x2="387.30" y2="241.10" stroke="#000" stroke-width="1.7"/>
<line x1="383.30" y1="223.60" x2="387.30" y2="223.60" stroke="#000" stroke-width="1.7"/>
<line x1="383.30" y1="206.10" x2="387.30" y2="206.10" stroke="#000" stroke-width="1.7"/>
<line x1="383.30" y1="188.60" x2="387.30" y2="188.60" stroke="#000" stroke-width="1.7"/>
<line x1="383.30" y1="284.85" x2="386.10" y2="284.85" stroke="#000" stroke-width="1.5"/>
<line x1="383.30" y1="267.35" x2="386.10" y2="267.35" stroke="#000" stroke-width="1.5"/>
<line x1="383.30" y1="249.85" x2="386.10" y2="249.85" stroke="#000" stroke-width="1.5"/>
<line x1="383.30" y1="232.35" x2="386.10" y2="232.35" stroke="#000" stroke-width="1.5"/>
<line x1="383.30" y1="214.85" x2="386.10" y2="214.85" stroke="#000" stroke-width="1.5"/>
<line x1="383.30" y1="197.35" x2="386.10" y2="197.35" stroke="#000" stroke-width="1.5"/>
<line x1="417.00" y1="293.60" x2="417.00" y2="290.00" stroke="#000" stroke-width="1.7"/>
<line x1="451.00" y1="293.60" x2="451.00" y2="290.00" stroke="#000" stroke-width="1.7"/>
<line x1="485.00" y1="293.60" x2="485.00" y2="290.00" stroke="#000" stroke-width="1.7"/>
<line x1="519.20" y1="293.60" x2="519.20" y2="290.00" stroke="#000" stroke-width="1.7"/>
<text x="377.30" y="297.10" font-size="9.4" font-weight="bold" text-anchor="end" stroke="#000" stroke-width="0.28">0</text>
<text x="377.30" y="279.53" font-size="9.4" font-weight="bold" text-anchor="end" stroke="#000" stroke-width="0.28">20</text>
<text x="377.30" y="261.97" font-size="9.4" font-weight="bold" text-anchor="end" stroke="#000" stroke-width="0.28">40</text>
<text x="377.30" y="244.40" font-size="9.4" font-weight="bold" text-anchor="end" stroke="#000" stroke-width="0.28">60</text>
<text x="377.30" y="226.83" font-size="9.4" font-weight="bold" text-anchor="end" stroke="#000" stroke-width="0.28">80</text>
<text x="377.30" y="209.27" font-size="9.4" font-weight="bold" text-anchor="end" stroke="#000" stroke-width="0.28">100</text>
<text x="377.30" y="191.70" font-size="9.4" font-weight="bold" text-anchor="end" stroke="#000" stroke-width="0.28">120</text>
<text x="358.90" y="234.50" font-size="7.25" font-weight="bold" text-anchor="middle" transform="rotate(-90 358.90 234.50)" stroke="#000" stroke-width="0.22">D-dimer in Plasma (ng/ml)</text>
<text x="351.30" y="186.60" font-size="12.5" font-weight="bold" text-anchor="middle" stroke="#000" stroke-width="0.6">E</text>
<line x1="388.80" y1="256.85" x2="388.80" y2="251.16" stroke="#111" stroke-width="0.85"/>
<line x1="387.70" y1="251.16" x2="389.90" y2="251.16" stroke="#111" stroke-width="0.85"/>
<rect x="387.00" y="256.85" width="3.60" height="36.75" fill="#ffffff" stroke="#000" stroke-width="0.95"/>
<line x1="393.40" y1="255.10" x2="393.40" y2="251.16" stroke="#111" stroke-width="0.85"/>
<line x1="392.30" y1="251.16" x2="394.50" y2="251.16" stroke="#111" stroke-width="0.85"/>
<rect x="391.60" y="255.10" width="3.60" height="38.50" fill="#000000" stroke="#000" stroke-width="0.95"/>
<line x1="398.00" y1="255.98" x2="398.00" y2="251.16" stroke="#111" stroke-width="0.85"/>
<line x1="396.90" y1="251.16" x2="399.10" y2="251.16" stroke="#111" stroke-width="0.85"/>
<rect x="396.20" y="255.98" width="3.60" height="37.62" fill="#8a8a8a" stroke="#000" stroke-width="0.95"/>
<line x1="402.50" y1="250.73" x2="402.50" y2="244.16" stroke="#111" stroke-width="0.85"/>
<line x1="401.40" y1="244.16" x2="403.60" y2="244.16" stroke="#111" stroke-width="0.85"/>
<rect x="400.70" y="250.73" width="3.60" height="42.88" fill="#dedede" stroke="#000" stroke-width="0.95"/>
<line x1="407.00" y1="248.98" x2="407.00" y2="245.91" stroke="#111" stroke-width="0.85"/>
<line x1="405.90" y1="245.91" x2="408.10" y2="245.91" stroke="#111" stroke-width="0.85"/>
<rect x="405.20" y="248.98" width="3.60" height="44.62" fill="#8a8a8a" stroke="#000" stroke-width="0.95"/>
<line x1="411.40" y1="253.35" x2="411.40" y2="251.60" stroke="#111" stroke-width="0.85"/>
<line x1="410.30" y1="251.60" x2="412.50" y2="251.60" stroke="#111" stroke-width="0.85"/>
<rect x="409.60" y="253.35" width="3.60" height="40.25" fill="#f4f4f4" stroke="#000" stroke-width="0.95"/>
<line x1="423.30" y1="239.35" x2="423.30" y2="231.04" stroke="#111" stroke-width="0.85"/>
<line x1="422.20" y1="231.04" x2="424.40" y2="231.04" stroke="#111" stroke-width="0.85"/>
<rect x="421.50" y="239.35" width="3.60" height="54.25" fill="#ffffff" stroke="#000" stroke-width="0.95"/>
<line x1="427.90" y1="236.73" x2="427.90" y2="231.04" stroke="#111" stroke-width="0.85"/>
<line x1="426.80" y1="231.04" x2="429.00" y2="231.04" stroke="#111" stroke-width="0.85"/>
<rect x="426.10" y="236.73" width="3.60" height="56.88" fill="#000000" stroke="#000" stroke-width="0.95"/>
<line x1="432.40" y1="232.35" x2="432.40" y2="223.60" stroke="#111" stroke-width="0.85"/>
<line x1="431.30" y1="223.60" x2="433.50" y2="223.60" stroke="#111" stroke-width="0.85"/>
<rect x="430.60" y="232.35" width="3.60" height="61.25" fill="#8a8a8a" stroke="#000" stroke-width="0.95"/>
<line x1="436.80" y1="229.73" x2="436.80" y2="219.66" stroke="#111" stroke-width="0.85"/>
<line x1="435.70" y1="219.66" x2="437.90" y2="219.66" stroke="#111" stroke-width="0.85"/>
<rect x="435.00" y="229.73" width="3.60" height="63.88" fill="#dedede" stroke="#000" stroke-width="0.95"/>
<line x1="441.30" y1="225.35" x2="441.30" y2="220.98" stroke="#111" stroke-width="0.85"/>
<line x1="440.20" y1="220.98" x2="442.40" y2="220.98" stroke="#111" stroke-width="0.85"/>
<rect x="439.50" y="225.35" width="3.60" height="68.25" fill="#8a8a8a" stroke="#000" stroke-width="0.95"/>
<line x1="445.70" y1="234.54" x2="445.70" y2="232.35" stroke="#111" stroke-width="0.85"/>
<line x1="444.60" y1="232.35" x2="446.80" y2="232.35" stroke="#111" stroke-width="0.85"/>
<rect x="443.90" y="234.54" width="3.60" height="59.06" fill="#f4f4f4" stroke="#000" stroke-width="0.95"/>
<line x1="456.90" y1="247.66" x2="456.90" y2="241.10" stroke="#111" stroke-width="0.85"/>
<line x1="455.80" y1="241.10" x2="458.00" y2="241.10" stroke="#111" stroke-width="0.85"/>
<rect x="455.10" y="247.66" width="3.60" height="45.94" fill="#ffffff" stroke="#000" stroke-width="0.95"/>
<line x1="461.40" y1="235.85" x2="461.40" y2="231.04" stroke="#111" stroke-width="0.85"/>
<line x1="460.30" y1="231.04" x2="462.50" y2="231.04" stroke="#111" stroke-width="0.85"/>
<rect x="459.60" y="235.85" width="3.60" height="57.75" fill="#000000" stroke="#000" stroke-width="0.95"/>
<line x1="465.90" y1="239.35" x2="465.90" y2="231.04" stroke="#111" stroke-width="0.85"/>
<line x1="464.80" y1="231.04" x2="467.00" y2="231.04" stroke="#111" stroke-width="0.85"/>
<rect x="464.10" y="239.35" width="3.60" height="54.25" fill="#8a8a8a" stroke="#000" stroke-width="0.95"/>
<line x1="470.30" y1="242.85" x2="470.30" y2="234.98" stroke="#111" stroke-width="0.85"/>
<line x1="469.20" y1="234.98" x2="471.40" y2="234.98" stroke="#111" stroke-width="0.85"/>
<rect x="468.50" y="242.85" width="3.60" height="50.75" fill="#dedede" stroke="#000" stroke-width="0.95"/>
<line x1="474.80" y1="248.98" x2="474.80" y2="245.48" stroke="#111" stroke-width="0.85"/>
<line x1="473.70" y1="245.48" x2="475.90" y2="245.48" stroke="#111" stroke-width="0.85"/>
<rect x="473.00" y="248.98" width="3.60" height="44.62" fill="#8a8a8a" stroke="#000" stroke-width="0.95"/>
<line x1="479.30" y1="239.35" x2="479.30" y2="235.85" stroke="#111" stroke-width="0.85"/>
<line x1="478.20" y1="235.85" x2="480.40" y2="235.85" stroke="#111" stroke-width="0.85"/>
<rect x="477.50" y="239.35" width="3.60" height="54.25" fill="#f4f4f4" stroke="#000" stroke-width="0.95"/>
<line x1="490.60" y1="266.04" x2="490.60" y2="262.54" stroke="#111" stroke-width="0.85"/>
<line x1="489.50" y1="262.54" x2="491.70" y2="262.54" stroke="#111" stroke-width="0.85"/>
<rect x="488.80" y="266.04" width="3.60" height="27.56" fill="#ffffff" stroke="#000" stroke-width="0.95"/>
<line x1="495.00" y1="264.73" x2="495.00" y2="262.10" stroke="#111" stroke-width="0.85"/>
<line x1="493.90" y1="262.10" x2="496.10" y2="262.10" stroke="#111" stroke-width="0.85"/>
<rect x="493.20" y="264.73" width="3.60" height="28.88" fill="#000000" stroke="#000" stroke-width="0.95"/>
<line x1="499.80" y1="256.41" x2="499.80" y2="251.60" stroke="#111" stroke-width="0.85"/>
<line x1="498.70" y1="251.60" x2="500.90" y2="251.60" stroke="#111" stroke-width="0.85"/>
<rect x="498.00" y="256.41" width="3.60" height="37.19" fill="#8a8a8a" stroke="#000" stroke-width="0.95"/>
<line x1="504.30" y1="262.10" x2="504.30" y2="257.29" stroke="#111" stroke-width="0.85"/>
<line x1="503.20" y1="257.29" x2="505.40" y2="257.29" stroke="#111" stroke-width="0.85"/>
<rect x="502.50" y="262.10" width="3.60" height="31.50" fill="#dedede" stroke="#000" stroke-width="0.95"/>
<line x1="508.50" y1="261.23" x2="508.50" y2="259.65" stroke="#111" stroke-width="0.85"/>
<line x1="507.40" y1="259.65" x2="509.60" y2="259.65" stroke="#111" stroke-width="0.85"/>
<rect x="506.70" y="261.23" width="3.60" height="32.38" fill="#8a8a8a" stroke="#000" stroke-width="0.95"/>
<line x1="512.90" y1="257.73" x2="512.90" y2="255.54" stroke="#111" stroke-width="0.85"/>
<line x1="511.80" y1="255.54" x2="514.00" y2="255.54" stroke="#111" stroke-width="0.85"/>
<rect x="511.10" y="257.73" width="3.60" height="35.88" fill="#f4f4f4" stroke="#000" stroke-width="0.95"/>
<line x1="390.00" y1="240.00" x2="415.60" y2="240.00" stroke="#000" stroke-width="1.1"/>
<text x="402.80" y="237.40" font-size="6.2" font-weight="bold" text-anchor="middle" stroke="#000" stroke-width="0.4">NS</text>
<line x1="423.00" y1="215.60" x2="448.00" y2="215.60" stroke="#000" stroke-width="1.1"/>
<text x="435.60" y="213.00" font-size="6.2" font-weight="bold" text-anchor="middle" stroke="#000" stroke-width="0.4">NS</text>
<line x1="458.00" y1="224.40" x2="483.00" y2="224.40" stroke="#000" stroke-width="1.1"/>
<text x="471.20" y="221.80" font-size="6.2" font-weight="bold" text-anchor="middle" stroke="#000" stroke-width="0.4">NS</text>
<line x1="492.00" y1="246.00" x2="518.00" y2="246.00" stroke="#000" stroke-width="1.1"/>
<text x="505.30" y="243.40" font-size="6.2" font-weight="bold" text-anchor="middle" stroke="#000" stroke-width="0.4">NS</text>
<text x="398.20" y="301.20" font-size="7.2" font-weight="bold" text-anchor="middle" stroke="#000" stroke-width="0.22">0 hr</text>
<text x="430.50" y="301.80" font-size="7.2" font-weight="bold" text-anchor="middle" stroke="#000" stroke-width="0.22">6 hr</text>
<text x="464.50" y="301.80" font-size="7.2" font-weight="bold" text-anchor="middle" stroke="#000" stroke-width="0.22">24 hr</text>
<text x="502.80" y="301.80" font-size="7.2" font-weight="bold" text-anchor="middle" stroke="#000" stroke-width="0.22">1 week</text>
</g>
</svg>
</body></html>
